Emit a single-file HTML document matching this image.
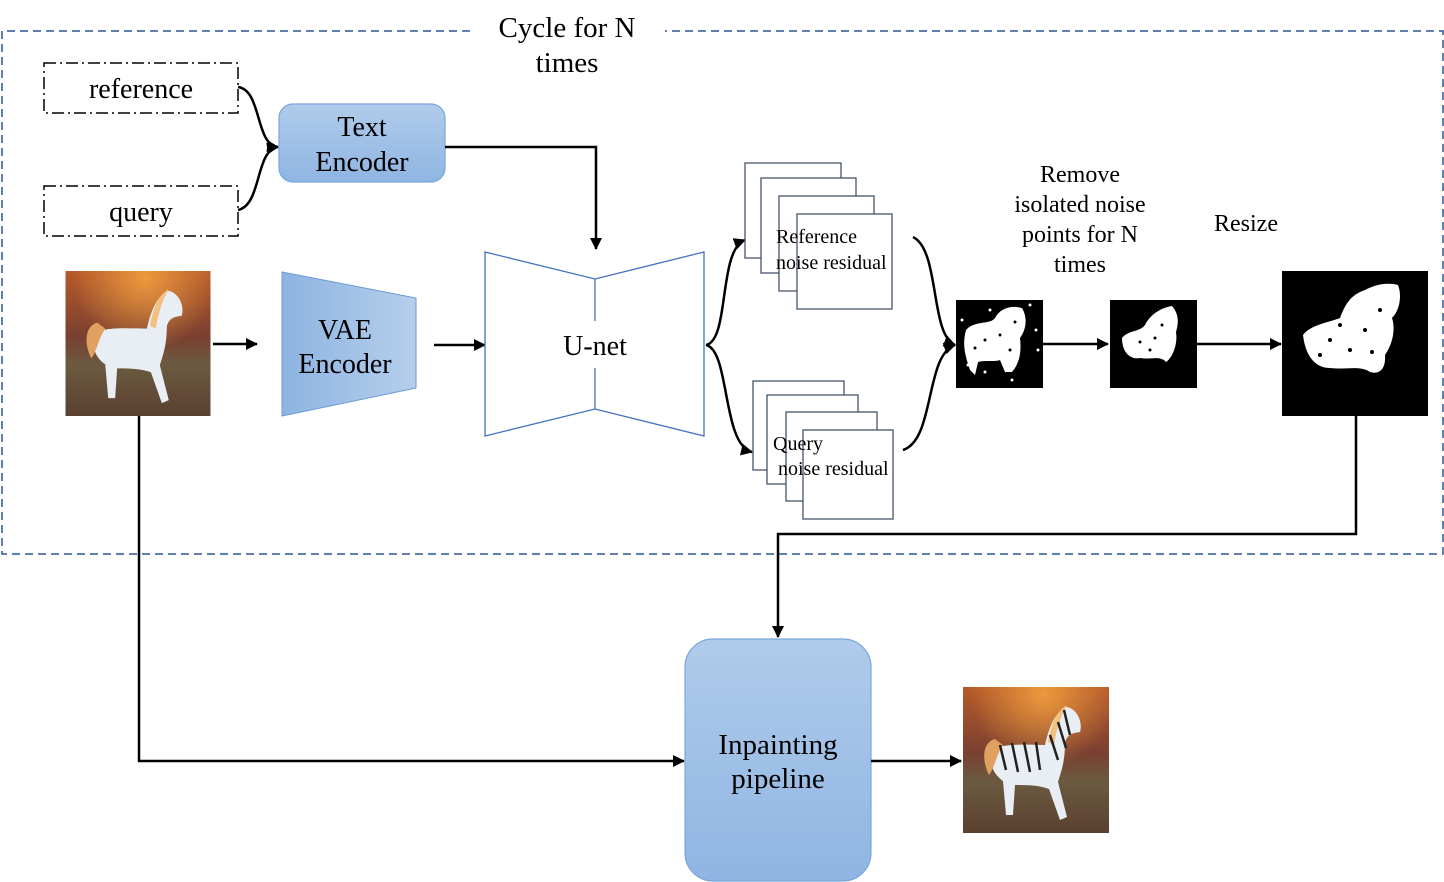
<!DOCTYPE html>
<html><head><meta charset="utf-8"><style>
html,body{margin:0;padding:0;background:#fff;}
svg{display:block;}
svg text{font-family:"Liberation Serif","Times New Roman",serif;}
</style></head><body>
<svg width="1444" height="882" viewBox="0 0 1444 882" xmlns="http://www.w3.org/2000/svg" font-family="Liberation Serif, serif">
<defs>
<marker id="ah" markerWidth="12" markerHeight="12" refX="11" refY="6" orient="auto" markerUnits="userSpaceOnUse">
<path d="M0,0 L12,6 L0,12 z" fill="#000"/></marker>
<linearGradient id="gv" x1="0" y1="0" x2="0" y2="1"><stop offset="0" stop-color="#b0cbea"/><stop offset="1" stop-color="#8fb5e3"/></linearGradient>
<linearGradient id="gh" x1="0" y1="0" x2="1" y2="0"><stop offset="0" stop-color="#8db4e2"/><stop offset="1" stop-color="#b6cfeb"/></linearGradient>
<linearGradient id="bg" x1="0" y1="0" x2="0" y2="1"><stop offset="0" stop-color="#b85a2a"/><stop offset="0.45" stop-color="#7a4030"/><stop offset="0.65" stop-color="#6b5a40"/><stop offset="1" stop-color="#5a4030"/></linearGradient>
<radialGradient id="glow" cx="0.55" cy="0.05" r="0.5"><stop offset="0" stop-color="#f2a040" stop-opacity="0.9"/><stop offset="1" stop-color="#f2a040" stop-opacity="0"/></radialGradient>
<symbol id="horse" viewBox="0 0 146 146">
<rect width="146" height="146" fill="url(#bg)"/>
<rect width="146" height="146" fill="url(#glow)"/>
<path d="M28,62 C45,56 65,58 82,58 C86,40 92,25 104,20 C114,22 120,35 117,45 C110,46 104,47 102,56 C102,75 98,85 95,95 L104,130 L97,133 L86,102 C76,98 62,98 52,98 L50,128 L43,128 L40,94 C30,87 26,77 28,62 Z" fill="#e8eef4"/>
<path d="M32,52 C20,55 18,72 26,88 C31,82 34,66 40,58 Z" fill="#e0a060"/>
<path d="M85,55 C88,40 92,25 104,18 C97,30 93,45 91,58 Z" fill="#f2c080"/>
</symbol>
</defs>

<path d="M470,31 L2,31 L2,554 L1443,554 L1443,31 L665,31" fill="none" stroke="#2f5597" stroke-width="1.5" stroke-dasharray="8,5"/>
<text x="567" y="37" font-size="29" text-anchor="middle">Cycle  for N</text>
<text x="567" y="72" font-size="29" text-anchor="middle">times</text>

<rect x="44" y="63" width="194" height="50" fill="none" stroke="#000" stroke-width="1.5" stroke-dasharray="12,4,2,4"/>
<text x="141" y="98" font-size="28" text-anchor="middle">reference</text>
<rect x="44" y="186" width="194" height="50" fill="none" stroke="#000" stroke-width="1.5" stroke-dasharray="12,4,2,4"/>
<text x="141" y="221" font-size="28" text-anchor="middle">query</text>
<path d="M238,87 C262,90 255,145 278,147" fill="none" stroke="#000" stroke-width="2.5" marker-end="url(#ah)"/>
<path d="M238,210 C262,205 255,150 278,147" fill="none" stroke="#000" stroke-width="2.5" marker-end="url(#ah)"/>

<rect x="279" y="104" width="166" height="78" rx="14" fill="url(#gv)" stroke="#7aa6dc" stroke-width="1.2"/>
<text x="362" y="136" font-size="28" text-anchor="middle">Text</text>
<text x="362" y="171" font-size="28" text-anchor="middle">Encoder</text>
<path d="M445,147 L596,147 L596,249" fill="none" stroke="#000" stroke-width="2.5" marker-end="url(#ah)"/>

<use href="#horse" x="65" y="271" width="146" height="145"/>
<line x1="213" y1="344" x2="257" y2="344" stroke="#000" stroke-width="2.5" marker-end="url(#ah)"/>

<polygon points="282,272 416,298 416,388 282,416" fill="url(#gh)" stroke="#6a9ad6" stroke-width="1"/>
<text x="345" y="339" font-size="28" text-anchor="middle">VAE</text>
<text x="345" y="373" font-size="28" text-anchor="middle">Encoder</text>
<line x1="434" y1="345" x2="485" y2="345" stroke="#000" stroke-width="2.5" marker-end="url(#ah)"/>

<polygon points="485,252 595,279 704,252 704,436 595,409 485,436" fill="#fff" stroke="#4472c4" stroke-width="1.3"/>
<line x1="595" y1="279" x2="595" y2="321" stroke="#4472c4" stroke-width="1.3"/>
<line x1="595" y1="368" x2="595" y2="409" stroke="#4472c4" stroke-width="1.3"/>
<text x="595" y="355" font-size="28" text-anchor="middle">U-net</text>

<path d="M706,345 C730,340 718,250 745,240" fill="none" stroke="#000" stroke-width="2.5" marker-end="url(#ah)"/>
<path d="M706,345 C730,350 722,445 752,452" fill="none" stroke="#000" stroke-width="2.5" marker-end="url(#ah)"/>

<g fill="#fff" stroke="#44546a" stroke-width="1.3">
<rect x="745" y="163" width="96" height="95"/>
<rect x="761" y="178" width="95" height="95"/>
<rect x="779" y="196" width="95" height="95"/>
<rect x="797" y="214" width="95" height="95"/>
</g>
<text x="776" y="243" font-size="20">Reference</text>
<text x="776" y="269" font-size="20">noise residual</text>

<g fill="#fff" stroke="#44546a" stroke-width="1.3">
<rect x="753" y="381" width="91" height="89"/>
<rect x="767" y="395" width="91" height="89"/>
<rect x="786" y="412" width="91" height="89"/>
<rect x="803" y="430" width="90" height="89"/>
</g>
<text x="773" y="450" font-size="20">Query</text>
<text x="778" y="475" font-size="20">noise residual</text>

<path d="M913,237 C940,250 930,335 955,345" fill="none" stroke="#000" stroke-width="2.5" marker-end="url(#ah)"/>
<path d="M903,450 C935,440 925,355 955,345" fill="none" stroke="#000" stroke-width="2.5" marker-end="url(#ah)"/>

<rect x="956" y="300" width="87" height="88" fill="#000"/>
<g fill="#fff">
<path d="M966,330 C975,320 990,325 995,318 C1000,308 1012,305 1022,308 C1028,318 1026,330 1020,338 C1022,355 1018,365 1012,372 L1005,372 L1000,360 C995,362 985,360 978,362 L975,375 L970,370 C965,355 962,345 966,330 Z"/>
<circle cx="962" cy="320" r="1.5"/><circle cx="1036" cy="330" r="1.5"/><circle cx="1030" cy="305" r="1.5"/><circle cx="985" cy="372" r="1.5"/><circle cx="1038" cy="350" r="1.5"/><circle cx="968" cy="365" r="1.5"/><circle cx="1012" cy="380" r="1.5"/><circle cx="990" cy="310" r="1.5"/>
</g>
<g fill="#000"><circle cx="985" cy="340" r="1.5"/><circle cx="1000" cy="335" r="1.5"/><circle cx="1010" cy="350" r="1.5"/><circle cx="1015" cy="322" r="1.5"/><circle cx="975" cy="348" r="1.5"/></g>
<line x1="1043" y1="344" x2="1108" y2="344" stroke="#000" stroke-width="2.5" marker-end="url(#ah)"/>
<rect x="1110" y="300" width="87" height="88" fill="#000"/>
<path fill="#fff" d="M1122,338 C1128,330 1140,332 1145,325 C1150,315 1160,308 1172,306 C1180,315 1178,325 1176,332 C1178,345 1172,358 1166,362 C1160,355 1150,360 1140,358 C1130,360 1122,352 1122,338 Z"/>
<g fill="#000"><circle cx="1140" cy="342" r="1.5"/><circle cx="1155" cy="338" r="1.5"/><circle cx="1162" cy="325" r="1.5"/><circle cx="1150" cy="350" r="1.5"/></g>
<line x1="1197" y1="344" x2="1281" y2="344" stroke="#000" stroke-width="2.5" marker-end="url(#ah)"/>
<rect x="1282" y="271" width="146" height="145" fill="#000"/>
<path fill="#fff" d="M1303,335 C1310,325 1330,322 1340,318 C1345,305 1350,295 1365,290 C1375,285 1385,282 1398,285 C1402,295 1400,310 1392,318 C1396,330 1392,345 1385,355 C1386,368 1380,375 1370,372 C1360,365 1345,370 1330,368 C1318,368 1306,360 1303,335 Z"/>
<g fill="#000"><circle cx="1330" cy="340" r="2"/><circle cx="1350" cy="350" r="2"/><circle cx="1365" cy="330" r="2"/><circle cx="1380" cy="310" r="2"/><circle cx="1340" cy="325" r="2"/><circle cx="1320" cy="355" r="2"/><circle cx="1372" cy="352" r="2"/></g>

<text x="1080" y="182" font-size="24" text-anchor="middle">Remove</text>
<text x="1080" y="212" font-size="24" text-anchor="middle">isolated noise</text>
<text x="1080" y="242" font-size="24" text-anchor="middle">points for N</text>
<text x="1080" y="272" font-size="24" text-anchor="middle">times</text>
<text x="1246" y="231" font-size="24" text-anchor="middle">Resize</text>

<path d="M1356,416 L1356,534 L778,534 L778,637" fill="none" stroke="#000" stroke-width="2.5" marker-end="url(#ah)"/>
<path d="M139,416 L139,761 L684,761" fill="none" stroke="#000" stroke-width="2.5" marker-end="url(#ah)"/>

<rect x="685" y="639" width="186" height="242" rx="28" fill="url(#gv)" stroke="#7aa6dc" stroke-width="1.2"/>
<text x="778" y="754" font-size="29" text-anchor="middle">Inpainting</text>
<text x="778" y="788" font-size="29" text-anchor="middle">pipeline</text>
<line x1="871" y1="761" x2="961" y2="761" stroke="#000" stroke-width="2.5" marker-end="url(#ah)"/>

<use href="#horse" x="962" y="687" width="148" height="146"/>
<g stroke="#222" stroke-width="2.5">
<line x1="1000" y1="745" x2="1006" y2="770"/><line x1="1012" y1="743" x2="1018" y2="772"/><line x1="1024" y1="742" x2="1030" y2="772"/><line x1="1036" y1="742" x2="1040" y2="770"/><line x1="1050" y1="735" x2="1058" y2="760"/><line x1="1058" y1="722" x2="1066" y2="748"/><line x1="1064" y1="710" x2="1070" y2="735"/>
</g>
</svg>
</body></html>
